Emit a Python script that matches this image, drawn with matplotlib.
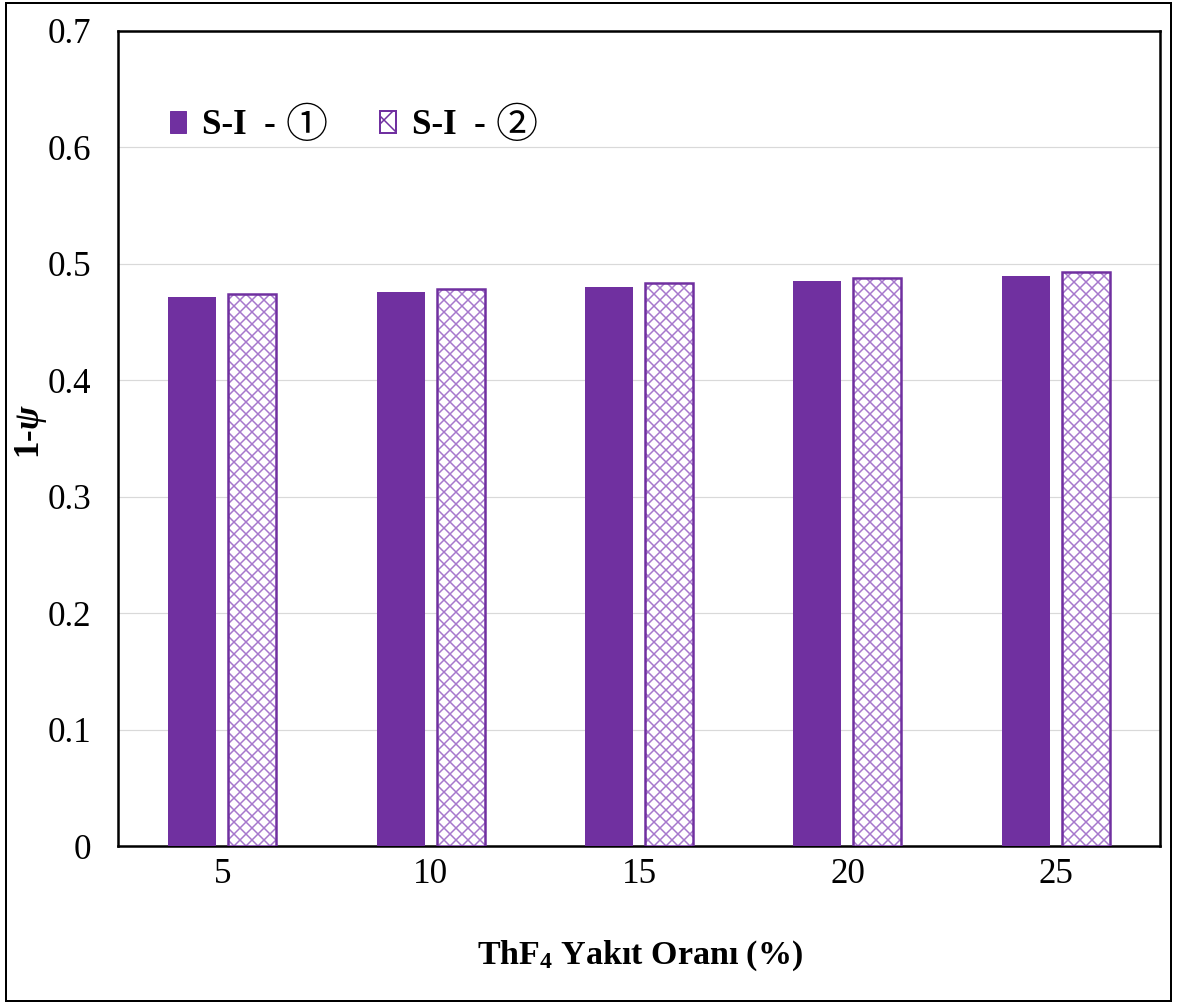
import matplotlib
matplotlib.use("Agg")
import matplotlib.pyplot as plt
from matplotlib.patches import Patch, Rectangle
import numpy as np

categories = ["5", "10", "15", "20", "25"]
series_1 = [0.4716, 0.4760, 0.4803, 0.4854, 0.4897]
series_2 = [0.4742, 0.4785, 0.4837, 0.4880, 0.4931]
labels = ["S-I  - \u2460", "S-I  - \u2461"]
y_ticks = [0, 0.1, 0.2, 0.3, 0.4, 0.5, 0.6, 0.7]

purple = "#7030A0"
hatch_purple = "#A678CC"

plt.rcParams["font.family"] = ["Liberation Serif", "DejaVu Serif", "Noto Sans CJK JP"]
plt.rcParams["mathtext.fontset"] = "custom"
plt.rcParams["mathtext.rm"] = "Liberation Serif"
plt.rcParams["mathtext.bf"] = "Liberation Serif:bold"
plt.rcParams["mathtext.it"] = "Liberation Serif:italic:bold"
plt.rcParams["hatch.linewidth"] = 1.5

fig = plt.figure(figsize=(1177 / 72, 1005 / 72), dpi=72)
ax = fig.add_axes([0.1003, 0.1582, 0.9856 - 0.1003, 0.9692 - 0.1582])

x = np.arange(len(categories))
w = 0.23
off = 0.144

ax.bar(x - off, series_1, width=w, color=purple, zorder=3)
# hatched fill, then darker outline on top
ax.bar(x + off, series_2, width=w, color="white", edgecolor=hatch_purple,
       hatch="xx", linewidth=0, zorder=3)
ax.bar(x + off, series_2, width=w, fill=False, edgecolor=purple,
       linewidth=2.5, zorder=4)

ax.set_xlim(-0.5, len(categories) - 0.5)
ax.set_ylim(0, 0.7)
ax.set_yticks(y_ticks)
ax.set_yticklabels(["0" if v == 0 else f"{v:.1f}" for v in y_ticks])
ax.set_xticks(x)
ax.set_xticklabels(categories)
ax.tick_params(axis="both", length=0, labelsize=35)
ax.tick_params(axis="y", pad=27)
ax.tick_params(axis="x", pad=12)
ax.yaxis.grid(True, color="#D9D9D9", linewidth=1.2, zorder=0)
ax.set_axisbelow(True)
for s in ax.spines.values():
    s.set_linewidth(2.5)
    s.set_color("black")

ax.set_ylabel("1-$\\psi$", fontsize=35, fontweight="bold")
ax.yaxis.set_label_coords(-0.066, 0.508)
ax.set_xlabel("ThF$_\\mathbf{4}$ Yak\u0131t Oran\u0131 (%)", fontsize=34,
              fontweight="bold")
ax.xaxis.set_label_coords(0.501, -0.113)

# legend: text part in the legend, circled numbers drawn larger after it
base_labels = [s[:-1].rstrip() for s in labels]
circled = [s[-1] for s in labels]
handles = [
    Patch(facecolor=purple, edgecolor=purple),
    Patch(facecolor="white", edgecolor=purple, hatch="x", linewidth=2),
]
leg = ax.legend(handles, base_labels, loc="center left",
                bbox_to_anchor=(0.050, 0.884), borderaxespad=0, borderpad=0,
                ncol=2, frameon=False, handlelength=0.45, handleheight=0.6,
                handletextpad=0.45, columnspacing=3.0,
                prop={"family": "Liberation Serif", "weight": "bold", "size": 35})

fig.canvas.draw()
renderer = fig.canvas.get_renderer()
for txt, c in zip(leg.get_texts(), circled):
    bb = txt.get_window_extent(renderer)
    fx = (bb.x1 + 10) / fig.bbox.width
    fy = (bb.y0 + bb.y1) / 2 / fig.bbox.height
    fig.text(fx, fy, c, ha="left", va="center", fontsize=42,
             family=["Noto Sans CJK JP", "DejaVu Sans"])

fig.patches.append(Rectangle((0.005, 0.004), 0.99, 0.993, transform=fig.transFigure,
                             fill=False, edgecolor="black", linewidth=2))

fig.savefig("out.png", dpi=72)
